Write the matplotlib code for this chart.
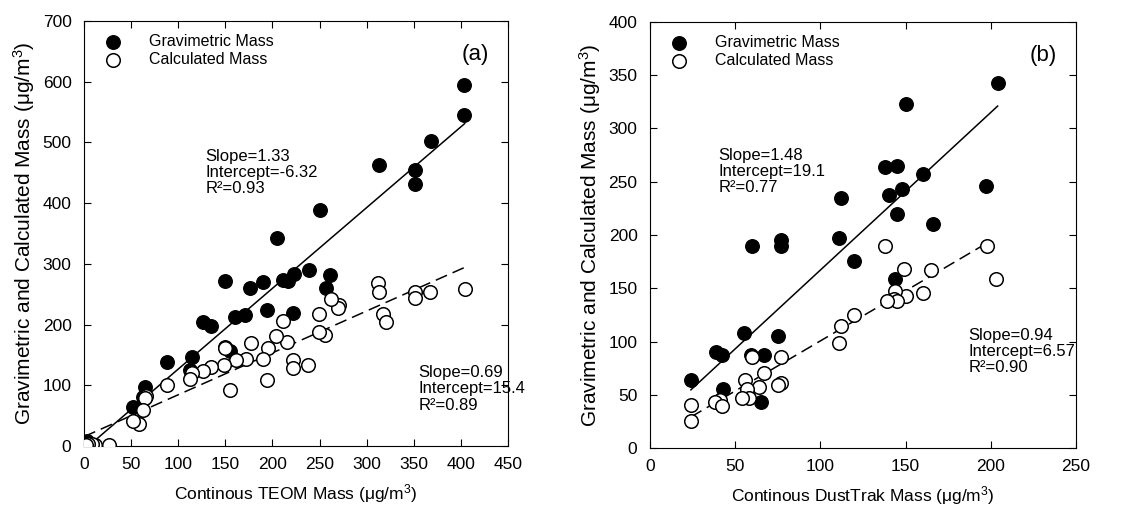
import matplotlib
matplotlib.use("Agg")
import matplotlib.pyplot as plt
import numpy as np

plt.rcParams['font.family'] = ['Liberation Sans', 'DejaVu Sans']
plt.rcParams['mathtext.fontset'] = 'custom'
plt.rcParams['mathtext.rm'] = 'Liberation Sans'
plt.rcParams['mathtext.it'] = 'Liberation Sans'

# panel (a): TEOM
teom_grav_x = [403, 403, 368, 351, 351, 313, 250, 205, 261, 257, 239, 223, 211, 216,
               190, 176, 150, 222, 194, 171, 160, 126, 135, 150, 155, 115, 112, 88,
               65, 63, 52, 3, 10]
teom_grav_y = [594, 546, 502, 455, 431, 463, 388, 342, 282, 260, 290, 284, 274, 272,
               270, 261, 271, 219, 224, 216, 213, 205, 198, 163, 157, 146, 125, 138,
               97, 80, 64, 8, 2]
teom_calc_x = [404, 367, 351, 351, 312, 313, 317, 321, 271, 270, 262, 256, 249, 249,
               238, 222, 222, 215, 211, 204, 195, 194, 190, 177, 172, 161, 155, 150,
               149, 135, 126, 115, 113, 88, 66, 65, 63, 58, 52, 27, 12, 8, 4, 2]
teom_calc_y = [259, 253, 254, 244, 268, 254, 217, 205, 232, 228, 242, 183, 218, 187,
               134, 142, 128, 172, 206, 182, 162, 109, 143, 169, 144, 141, 93, 162,
               133, 130, 123, 120, 111, 101, 82, 79, 60, 36, 42, 2, 1, 3, 4, 2]

# panel (b): DustTrak
dt_grav_x = [204, 150, 138, 145, 140, 148, 145, 160, 166, 197, 112, 111, 77, 77, 60,
             120, 144, 55, 75, 39, 42, 59, 67, 24, 43, 65]
dt_grav_y = [343, 323, 264, 265, 238, 243, 220, 257, 210, 246, 235, 197, 195, 190, 190,
             176, 159, 108, 105, 90, 87, 87, 87, 64, 55, 43]
dt_calc_x = [198, 138, 203, 165, 149, 160, 150, 144, 143, 145, 139, 120, 112, 111, 77,
             60, 77, 75, 67, 56, 64, 57, 58, 54, 41, 38, 42, 24, 24]
dt_calc_y = [190, 190, 159, 167, 168, 146, 143, 147, 140, 138, 138, 125, 115, 99, 85,
             85, 61, 59, 70, 64, 57, 55, 47, 47, 45, 43, 39, 40, 25]

fig = plt.figure(figsize=(11.34, 5.15), dpi=100)
ax1 = fig.add_axes([84/1134, 1-446/515, (508-84)/1134, (446-21)/515])
ax2 = fig.add_axes([650/1134, 1-448/515, (1076-650)/1134, (448-22)/515])


def panel(ax, gx, gy, cx, cy, xmax, ymax, xstep, ystep, fit_g, fit_c, gx_rng, cx_rng):
    ax.scatter(gx, gy, s=95, c='black', edgecolors='black', zorder=3,
               label='Gravimetric Mass')
    ax.scatter(cx, cy, s=95, facecolors='white', edgecolors='black', linewidths=1.1,
               zorder=3, label='Calculated Mass')
    xs = np.array(gx_rng)
    ax.plot(xs, fit_g[0] * xs + fit_g[1], color='black', lw=1.1, zorder=2)
    xs = np.array(cx_rng)
    ax.plot(xs, fit_c[0] * xs + fit_c[1], color='black', lw=1.1, ls=(0, (8, 4)), zorder=2)
    ax.set_xlim(0, xmax)
    ax.set_ylim(0, ymax)
    ax.set_xticks(np.arange(0, xmax + 1, xstep))
    ax.set_yticks(np.arange(0, ymax + 1, ystep))
    ax.tick_params(direction='in', top=True, right=True, labelsize=12.5, length=5)
    ax.tick_params(axis='y', pad=9)
    ax.tick_params(axis='x', pad=8)
    ax.set_ylabel('Gravimetric and Calculated Mass (μg/m$^3$)', fontsize=15, labelpad=4)
    ax.legend(loc='upper left', frameon=False, fontsize=11.5, handletextpad=1.3,
              borderaxespad=0.4, labelspacing=0.2, bbox_to_anchor=(0.0, 1.0))


panel(ax1, teom_grav_x, teom_grav_y, teom_calc_x, teom_calc_y, 450, 700, 50, 100,
      (1.33, -6.32), (0.69, 15.4), [8, 404], [0, 405])
ax1.set_xlabel('Continous TEOM Mass (μg/m$^3$)', fontsize=12.5, labelpad=7)
ax1.text(0.955, 0.945, '(a)', transform=ax1.transAxes, ha='right', va='top', fontsize=16)
ax1.text(129, 490, 'Slope=1.33\nIntercept=-6.32\nR²=0.93', fontsize=12, va='top',
         linespacing=1.1)
ax1.text(355, 133, 'Slope=0.69\nIntercept=15.4\nR²=0.89', fontsize=12, va='top',
         linespacing=1.1)

panel(ax2, dt_grav_x, dt_grav_y, dt_calc_x, dt_calc_y, 250, 400, 50, 50,
      (1.48, 19.1), (0.94, 6.57), [24, 204], [24, 200])
ax2.set_xlabel('Continous DustTrak Mass (μg/m$^3$)', fontsize=12.5, labelpad=7)
ax2.text(0.955, 0.945, '(b)', transform=ax2.transAxes, ha='right', va='top', fontsize=16)
ax2.text(40, 282, 'Slope=1.48\nIntercept=19.1\nR²=0.77', fontsize=12, va='top',
         linespacing=1.1)
ax2.text(187, 113, 'Slope=0.94\nIntercept=6.57\nR²=0.90', fontsize=12, va='top',
         linespacing=1.1)

fig.savefig('out.png', dpi=100)
